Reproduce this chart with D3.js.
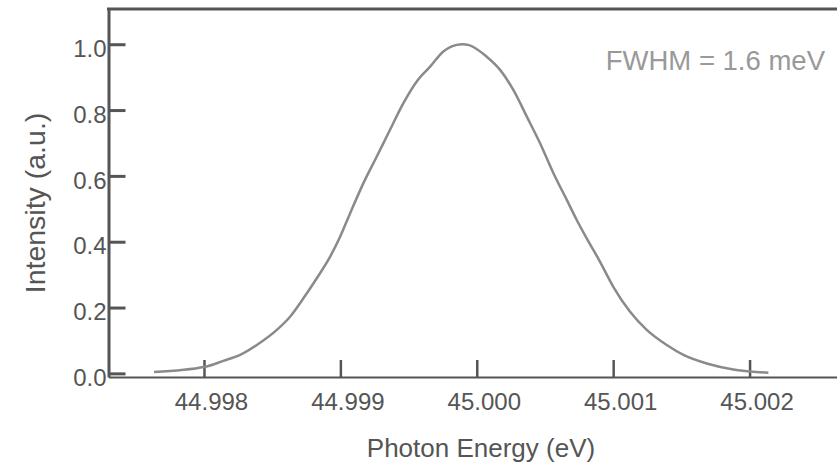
<!DOCTYPE html>
<html>
<head>
<meta charset="utf-8">
<script src="https://cdn.jsdelivr.net/npm/d3@7"></script>
<style>
  html, body { margin: 0; padding: 0; background: #fff; }
  svg { display: block; font-family: "Liberation Sans", Arial, Helvetica, sans-serif; }
</style>
</head>
<body>
<svg id="chart" width="837" height="467"></svg>
<script>
// Measured spectral line profile
const energy = [
  44.997634, 44.998008, 44.998142, 44.998265, 44.998387, 44.998534, 44.998631,
  44.998729, 44.998827, 44.998924, 44.998998, 44.999071, 44.999169, 44.999267,
  44.999364, 44.999462, 44.999560, 44.999658, 44.999755, 44.999853, 44.999896,
  44.999938, 45.000073, 45.000171, 45.000268, 45.000367, 45.000464, 45.000562,
  45.000660, 45.000733, 45.000806, 45.000904, 45.001001, 45.001124, 45.001246,
  45.001393, 45.001515, 45.001686, 45.001881, 45.002004, 45.002138
];
const intensity = [
  0.004, 0.020, 0.038, 0.056, 0.086, 0.132, 0.172,
  0.228, 0.289, 0.354, 0.415, 0.486, 0.578, 0.659,
  0.740, 0.821, 0.887, 0.932, 0.978, 0.998, 1.000,
  0.998, 0.962, 0.922, 0.861, 0.780, 0.699, 0.608,
  0.527, 0.466, 0.410, 0.339, 0.263, 0.187, 0.132,
  0.086, 0.056, 0.030, 0.012, 0.006, 0.002
];
const xTicks = [44.998, 44.999, 45.000, 45.001, 45.002];
const yTicks = [0.0, 0.2, 0.4, 0.6, 0.8, 1.0];
const xLabel = "Photon Energy (eV)";
const yLabel = "Intensity (a.u.)";
const note = "FWHM = 1.6 meV";

const axisColor = "#555555";
const lineColor = "#8a8a8a";

const svg = d3.select("#chart");
const plotLeft = 108.5, plotRight = 837, plotTop = 9, plotBottom = 377;

const x = d3.scaleLinear().domain([44.9973, 45.002641]).range([plotLeft, plotRight]);
const y = d3.scaleLinear().domain([-0.011, 1.107]).range([plotBottom, plotTop]);

// top frame line
svg.append("line")
  .attr("x1", plotLeft - 1.5).attr("x2", plotRight)
  .attr("y1", plotTop).attr("y2", plotTop)
  .attr("stroke", axisColor).attr("stroke-width", 3);

// bottom axis
const gx = svg.append("g")
  .attr("transform", `translate(0,${plotBottom})`)
  .call(d3.axisBottom(x).tickValues(xTicks).tickFormat(d3.format(".3f"))
    .tickSizeInner(-17).tickSizeOuter(0).tickPadding(16));
gx.select(".domain").attr("stroke", axisColor).attr("stroke-width", 2);
gx.selectAll(".tick line").attr("stroke", axisColor).attr("stroke-width", 2.5);
gx.selectAll(".tick text")
  .attr("fill", axisColor).attr("font-size", 24).attr("dx", 7);

// left axis
const gy = svg.append("g")
  .attr("transform", `translate(${plotLeft},0)`)
  .call(d3.axisLeft(y).tickValues(yTicks).tickFormat(d3.format(".1f"))
    .tickSizeInner(-17).tickSizeOuter(0).tickPadding(2));
gy.select(".domain").attr("stroke", axisColor).attr("stroke-width", 3);
gy.selectAll(".tick line").attr("stroke", axisColor).attr("stroke-width", 3);
gy.selectAll(".tick text")
  .attr("fill", axisColor).attr("font-size", 24).attr("dy", "0.51em");

// spectrum
const pts = energy.map((e, i) => [e, intensity[i]]);
svg.append("path")
  .datum(pts)
  .attr("fill", "none")
  .attr("stroke", lineColor)
  .attr("stroke-width", 2.5)
  .attr("stroke-linejoin", "round")
  .attr("d", d3.line().x(d => x(d[0])).y(d => y(d[1])).curve(d3.curveMonotoneX));

// axis titles
svg.append("text")
  .attr("x", 481).attr("y", 457)
  .attr("text-anchor", "middle")
  .attr("font-size", 26).attr("fill", axisColor)
  .text(xLabel);

svg.append("text")
  .attr("transform", "translate(45,203) rotate(-90)")
  .attr("text-anchor", "middle")
  .attr("font-size", 28.5).attr("fill", axisColor)
  .text(yLabel);

// annotation
svg.append("text")
  .attr("x", 825).attr("y", 70)
  .attr("text-anchor", "end")
  .attr("font-size", 27.5).attr("fill", "#999999")
  .text(note);
</script>
</body>
</html>
